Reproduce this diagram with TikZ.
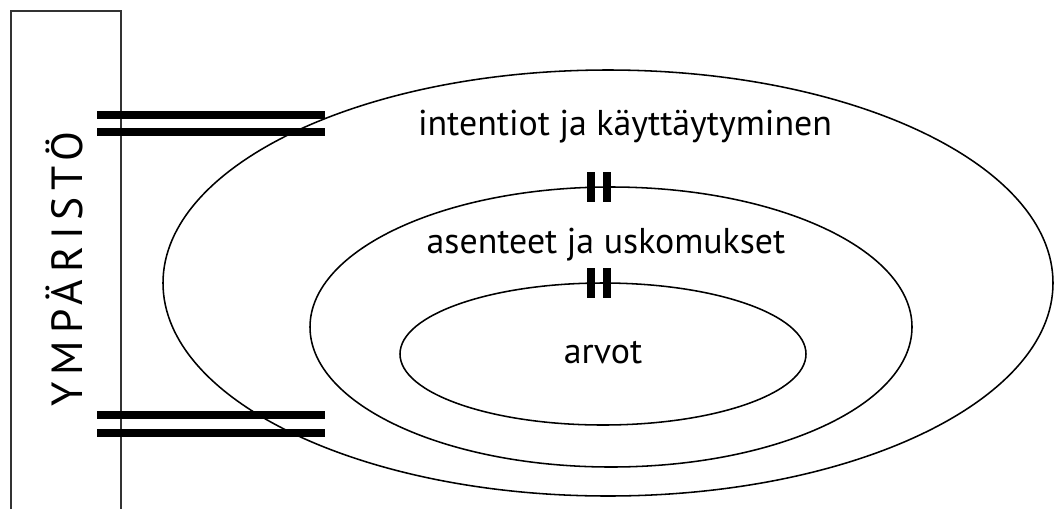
\documentclass[tikz,border=0pt]{standalone}
\usepackage{fontspec}
\setmainfont{PT Sans}
\usepackage{tikz}
\usetikzlibrary{positioning}

\begin{document}
\begin{tikzpicture}[x=0.025cm, y=-0.025cm,
  ring/.style={draw=black, line width=1.1pt},
  bar/.style={draw=black, line width=5.7pt},
  tick/.style={draw=black, line width=5.6pt},
  label/.style={font=\fontsize{25.5}{28}\selectfont, inner sep=0pt}]
\useasboundingbox (0,0) rectangle (1059,509);

% environment box (open at the bottom)
\draw[draw=black!80, line width=0.9pt] (11,509) -- (11,11) -- (121,11) -- (121,509);
\node[rotate=90, inner sep=0pt, font=\fontsize{31}{34}\selectfont\addfontfeature{LetterSpace=16}] (env) at (64,269) {YMPÄRISTÖ};

% rings
\draw[ring] (608,283) ellipse (445 and 213);
\draw[ring] (611,327) ellipse (301 and 140);
\draw[ring] (603,354) ellipse (203 and 71);

% labels
\node[label] (behav) at (625,127) {intentiot ja käyttäytyminen};
\node[label] (belief) at (606,245) {asenteet ja uskomukset};
\node[label] (values) at (603,353) {arvot};

% ticks on the rings
\coordinate (t1) at (599,187);
\coordinate (t2) at (599,283);
\foreach \t in {t1,t2}{
  \draw[tick] ([xshift=-0.2cm, yshift=0.37cm]\t) -- ([xshift=-0.2cm, yshift=-0.37cm]\t);
  \draw[tick] ([xshift=0.2cm, yshift=0.37cm]\t) -- ([xshift=0.2cm, yshift=-0.37cm]\t);
}

% links to the environment
\foreach \y in {115,132,415,433}
  \draw[bar] (97,\y) -- (325,\y);
\end{tikzpicture}
\end{document}
